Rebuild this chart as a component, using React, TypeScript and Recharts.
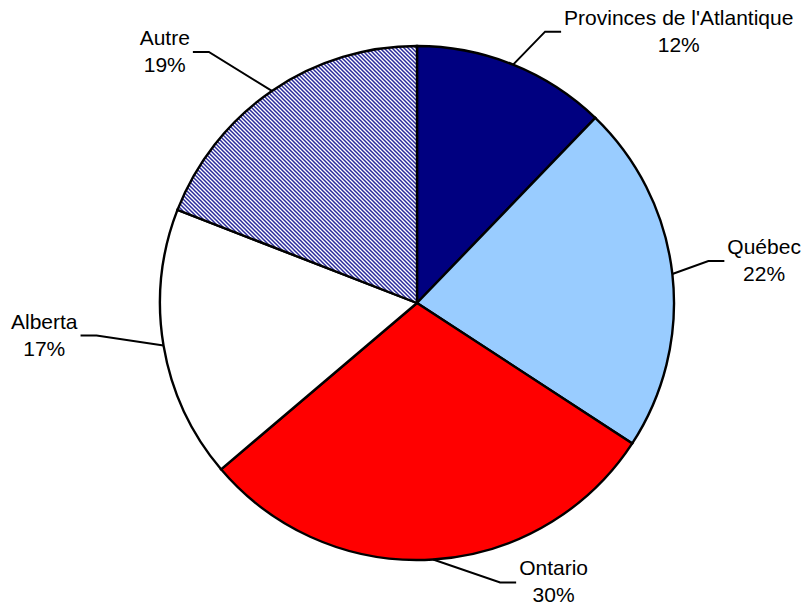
import React from "react";
import { PieChart, Pie, Cell } from "recharts";

const NAMES = ["Provinces de l'Atlantique", "Québec", "Ontario", "Alberta", "Autre"];
const VALUES = [12.2, 22.0, 29.6, 17.1, 19.1];
const COLORS = ["#000080", "#99CCFF", "#FF0000", "#FFFFFF", "url(#autreHatch)"];

// leader-line elbow offsets (relative to the slice's rim point), layout only
const LABEL_ELBOW: [number, number][] = [
  [32, -33],
  [36, -13],
  [67, 23],
  [-67, -10],
  [-63, -39],
];

const FONT = "'Liberation Sans', Arial, sans-serif";
const FONT_SIZE = 21;

const data = NAMES.map((n, i) => ({ name: n, value: VALUES[i] }));

let ctx: CanvasRenderingContext2D | null = null;
function measure(s: string): number {
  if (!ctx) {
    const c = document.createElement("canvas");
    ctx = c.getContext("2d");
  }
  if (!ctx) return s.length * FONT_SIZE * 0.5;
  ctx.font = `${FONT_SIZE}px 'Liberation Sans'`;
  return ctx.measureText(s).width;
}

const renderLabel = (props: any) => {
  const { cx, cy, midAngle, outerRadius, index, percent } = props;
  const RAD = Math.PI / 180;
  const sx = cx + outerRadius * Math.cos(-midAngle * RAD);
  const sy = cy + outerRadius * Math.sin(-midAngle * RAD);
  const [ox, oy] = LABEL_ELBOW[index];
  const ex = sx + ox;
  const ey = sy + oy;
  const right = ox > 0;
  const hx = ex + (right ? 16 : -16);
  const lines = [NAMES[index], `${Math.round(percent * 100)}%`];
  const w = Math.max(...lines.map(measure));
  const tx = right ? hx + 3 + w / 2 : hx - 3 - w / 2;
  return (
    <g key={`lbl-${index}`}>
      <polyline
        points={`${sx},${sy} ${ex},${ey} ${hx},${ey}`}
        fill="none"
        stroke="#000"
        strokeWidth={2}
      />
      <text
        x={tx}
        y={ey - 7}
        textAnchor="middle"
        fontFamily={FONT}
        fontSize={FONT_SIZE}
        fill="#000"
      >
        <tspan x={tx}>{lines[0]}</tspan>
        <tspan x={tx} dy={27}>{lines[1]}</tspan>
      </text>
    </g>
  );
};

export default function App() {
  return (
    <div style={{ position: "absolute", left: 0, top: 0, width: 804, height: 610, background: "#fff" }}>
      <svg width={0} height={0} style={{ position: "absolute" }}>
        <defs>
          <pattern id="autreHatch" patternUnits="userSpaceOnUse" width={4} height={4}>
            <rect x={0} y={0} width={4} height={4} fill="#ffffff" />
            <path d="M-1,-1 L5,5 M-1,3 L1,5 M3,-1 L5,1" stroke="#2a2a9c" strokeWidth={1.5} />
          </pattern>
        </defs>
      </svg>
      <PieChart width={804} height={610} margin={{ top: 0, right: 0, bottom: 0, left: 0 }}>
        <Pie
          data={data}
          dataKey="value"
          nameKey="name"
          cx={417}
          cy={303}
          outerRadius={257}
          startAngle={90}
          endAngle={-270}
          stroke="#000"
          strokeWidth={2.4}
          label={renderLabel}
          labelLine={false}
          isAnimationActive={false}
        >
          {data.map((d, i) => (
            <Cell key={d.name} fill={COLORS[i]} stroke="#000" strokeWidth={2.4} />
          ))}
        </Pie>
      </PieChart>
    </div>
  );
}
